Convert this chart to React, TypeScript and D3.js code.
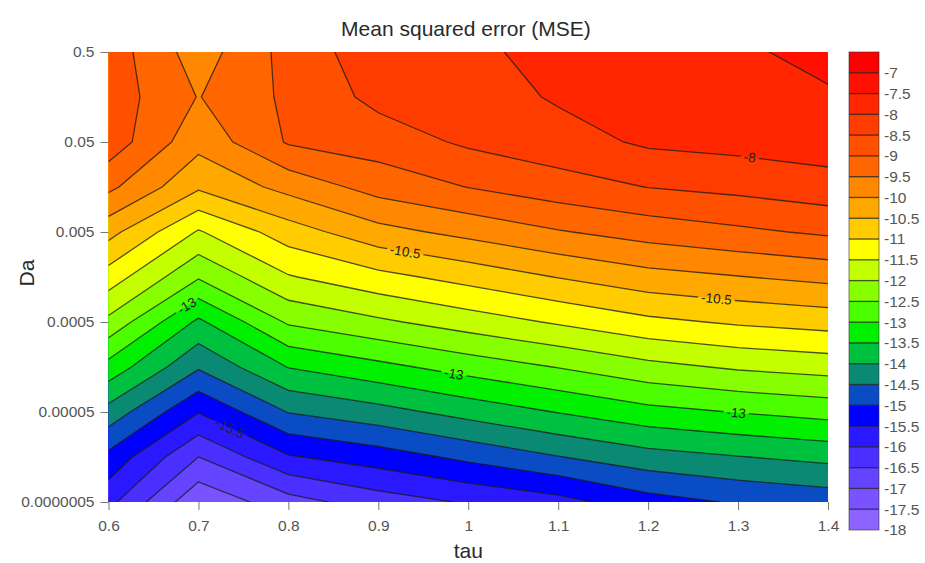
import React, { useEffect, useRef } from "react";
import * as d3 from "d3";

// tau columns of the grid
const tauValues = [0.6, 0.7, 0.8, 0.9, 1.0, 1.1, 1.2, 1.3, 1.4];
// Da tick labels, bottom to top (the axis is evenly spaced)
const daTicks = ["0.0000005", "0.00005", "0.0005", "0.005", "0.05", "0.5"];
// grid rows in tick-index units, top (Da = 0.5) to bottom
const daRows = [5, 4.5, 4, 3.5, 3, 2.5, 2, 1.5, 1, 0.5, 0];

// MSE (log) per tau column, top row to bottom row
const mse06 = [-8.72, -8.72, -8.7, -9.38, -10.33, -11.23, -12.13, -13.18, -14.19, -15.14, -15.85];
const mse07 = [-9.75, -9.52, -9.84, -10.42, -11.55, -12.45, -13.6, -14.44, -15.48, -16.5, -17.4];
const mse08 = [-8.82, -8.9, -8.95, -9.84, -10.74, -11.54, -12.43, -13.48, -14.48, -15.55, -16.7];
const mse09 = [-8.2, -8.36, -8.76, -9.3, -10.17, -11.15, -12.09, -13.14, -14.18, -15.25, -16.25];
const mse10 = [-8.12, -8.26, -8.42, -8.99, -9.85, -10.82, -11.76, -12.79, -13.82, -14.88, -15.95];
const mse11 = [-7.82, -7.94, -8.21, -8.71, -9.54, -10.48, -11.44, -12.48, -13.48, -14.52, -15.68];
const mse12 = [-7.65, -7.81, -7.92, -8.49, -9.29, -10.18, -11.12, -12.15, -13.16, -14.2, -15.2];
const mse13 = [-7.58, -7.76, -7.84, -8.36, -9.1, -10.02, -10.93, -11.93, -12.98, -14.02, -14.95];
const mse14 = [-7.35, -7.56, -7.75, -8.2, -8.92, -9.86, -10.8, -11.8, -12.82, -13.86, -14.8];
const mseColumns = [mse06, mse07, mse08, mse09, mse10, mse11, mse12, mse13, mse14];

// contour levels (lower edge of each band) and band colours, -18 up to -7
const levels = d3.range(-18, -6.9, 0.5);
const bandColors = [
  "#8d63ff", "#7a52ff", "#6444ff", "#4a30ff", "#2a18ff", "#0000ff",
  "#0a4cc4", "#0a8a72", "#00c040", "#00f000", "#4cff00", "#88ff00",
  "#c4ff00", "#ffff00", "#ffcc00", "#ffa800", "#ff8800", "#ff6600",
  "#ff5000", "#ff3c00", "#ff2600", "#ff1000", "#ff0000",
];

// inline contour labels
const contourLabels = [
  { level: -8, tau: 1.313 },
  { level: -10.5, tau: 0.93 },
  { level: -10.5, tau: 1.276 },
  { level: -13, tau: 0.687 },
  { level: -13, tau: 0.984 },
  { level: -13, tau: 1.298 },
  { level: -15.5, tau: 0.735 },
];

function draw(svgEl: SVGSVGElement) {
  const dims = { left: 108.5, right: 828, top: 52, bottom: 502 };
  const font = "'Liberation Sans', Arial, sans-serif";

  const svg = d3.select(svgEl);
  svg.selectAll("*").remove();

  const x = d3.scaleLinear().domain([0.6, 1.4]).range([dims.left, dims.right]);
  const y = d3.scaleLinear().domain([0, daTicks.length - 1]).range([dims.bottom, dims.top]);

  const n = tauValues.length;
  const m = daRows.length;
  const grid: number[] = new Array(n * m);
  for (let j = 0; j < m; j++) {
    for (let i = 0; i < n; i++) grid[j * n + i] = mseColumns[i][j];
  }

  // d3.contours puts sample k at k + 0.5
  const gx = d3.scaleLinear().domain([0.5, n - 0.5]).range([x(tauValues[0]), x(tauValues[n - 1])]);
  const gy = d3.scaleLinear().domain([0.5, m - 0.5]).range([y(daRows[0]), y(daRows[m - 1])]);
  const path = d3.geoPath(
    d3.geoTransform({
      point(px: number, py: number) {
        (this as any).stream.point(gx(px), gy(py));
      },
    })
  );

  const contours = d3.contours().size([n, m]).thresholds(levels)(grid);
  const colorOf = (v: number) => bandColors[levels.indexOf(v)];

  const defs = svg.append("defs");
  defs.append("clipPath").attr("id", "plot-clip")
    .append("rect")
    .attr("x", dims.left).attr("y", dims.top)
    .attr("width", dims.right - dims.left).attr("height", dims.bottom - dims.top);

  const plot = svg.append("g").attr("clip-path", "url(#plot-clip)");
  plot.append("g")
    .selectAll("path")
    .data(contours)
    .join("path")
    .attr("d", (d: any) => path(d))
    .attr("fill", (d: any) => colorOf(d.value));

  // label positions along the contours
  const valueAt = (tau: number, row: number) => {
    const c = (tau - tauValues[0]) / 0.1;
    const i0 = Math.max(0, Math.min(Math.floor(c), n - 2));
    const f = c - i0;
    return mseColumns[i0][row] * (1 - f) + mseColumns[i0 + 1][row] * f;
  };
  const crossingY = (tau: number, level: number) => {
    for (let j = 0; j < m - 1; j++) {
      const a = valueAt(tau, j);
      const b = valueAt(tau, j + 1);
      if ((a - level) * (b - level) <= 0 && a !== b) {
        const f = (a - level) / (a - b);
        return y(daRows[j] + (daRows[j + 1] - daRows[j]) * f);
      }
    }
    return y(0);
  };

  const mask = defs.append("mask").attr("id", "label-gaps")
    .attr("maskUnits", "userSpaceOnUse")
    .attr("x", 0).attr("y", 0).attr("width", 925).attr("height", 563);
  mask.append("rect").attr("width", 925).attr("height", 563).attr("fill", "white");

  const lines = plot.append("g").attr("mask", "url(#label-gaps)");
  lines.selectAll("path")
    .data(contours.filter((c: any) => c.value > levels[0]))
    .join("path")
    .attr("d", (d: any) => path(d))
    .attr("fill", "none")
    .attr("stroke", "#1a1a1a")
    .attr("stroke-opacity", 0.75)
    .attr("stroke-width", 1.3);

  const labelG = plot.append("g");
  contourLabels.forEach((l) => {
    const cx = x(l.tau);
    const cy = crossingY(l.tau, l.level);
    const y1 = crossingY(l.tau - 0.01, l.level);
    const y2 = crossingY(l.tau + 0.01, l.level);
    const angle = (Math.atan2(y2 - y1, x(l.tau + 0.01) - x(l.tau - 0.01)) * 180) / Math.PI;
    const t = labelG.append("text")
      .attr("transform", `translate(${cx},${cy}) rotate(${angle})`)
      .attr("text-anchor", "middle")
      .attr("dy", "0.35em")
      .attr("font-family", font)
      .attr("font-size", 13.5)
      .attr("fill", "#222")
      .text(String(l.level));
    const w = (t.node() as SVGTextElement).getComputedTextLength() + 6;
    mask.append("rect")
      .attr("transform", `translate(${cx},${cy}) rotate(${angle})`)
      .attr("x", -w / 2).attr("y", -6).attr("width", w).attr("height", 12)
      .attr("fill", "black");
  });

  // X axis
  const xAxis = svg.append("g")
    .attr("transform", `translate(0,${dims.bottom})`)
    .call(
      d3.axisBottom(x)
        .tickValues(tauValues)
        .tickFormat((d: any) => String(d))
        .tickSize(8)
        .tickPadding(10)
    );
  xAxis.select(".domain").remove();
  xAxis.selectAll("line").attr("stroke", "#777");
  xAxis.selectAll("text").attr("font-family", font).attr("font-size", 15.5).attr("fill", "#555");

  // Y axis
  const yAxis = svg.append("g")
    .attr("transform", `translate(${dims.left},0)`)
    .call(
      d3.axisLeft(y)
        .tickValues(d3.range(daTicks.length))
        .tickFormat((d: any) => daTicks[d])
        .tickSize(8)
        .tickPadding(6)
    );
  yAxis.select(".domain").remove();
  yAxis.selectAll("line").attr("stroke", "#777");
  yAxis.selectAll("text").attr("font-family", font).attr("font-size", 15.5).attr("fill", "#555");

  // Colour bar
  const cb = d3.scaleLinear().domain([-18, -6.5]).range([530, 52]);
  const cbX = 849;
  const cbW = 30;
  const cbG = svg.append("g");
  cbG.selectAll("rect.band")
    .data(levels)
    .join("rect")
    .attr("class", "band")
    .attr("x", cbX)
    .attr("width", cbW)
    .attr("y", (d: number) => cb(d + 0.5))
    .attr("height", (d: number) => cb(d) - cb(d + 0.5))
    .attr("fill", (d: number) => colorOf(d));
  cbG.selectAll("line")
    .data(levels.slice(1))
    .join("line")
    .attr("x1", cbX).attr("x2", cbX + cbW)
    .attr("y1", (d: number) => cb(d)).attr("y2", (d: number) => cb(d))
    .attr("stroke", "#1a1a1a").attr("stroke-opacity", 0.75).attr("stroke-width", 1.3);
  cbG.append("rect")
    .attr("x", cbX).attr("y", cb(-6.5))
    .attr("width", cbW).attr("height", cb(-18) - cb(-6.5))
    .attr("fill", "none").attr("stroke", "#333").attr("stroke-opacity", 0.6);
  cbG.selectAll("text")
    .data(levels)
    .join("text")
    .attr("x", cbX + cbW + 5)
    .attr("y", (d: number) => cb(d))
    .attr("dy", "0.35em")
    .attr("font-family", font)
    .attr("font-size", 15.5)
    .attr("fill", "#555")
    .text((d: number) => String(d));

  // Titles
  svg.append("text")
    .attr("x", 466).attr("y", 36)
    .attr("text-anchor", "middle")
    .attr("font-family", font).attr("font-size", 21).attr("fill", "#2a2a2a")
    .text("Mean squared error (MSE)");
  svg.append("text")
    .attr("x", (dims.left + dims.right) / 2).attr("y", 558)
    .attr("text-anchor", "middle")
    .attr("font-family", font).attr("font-size", 21).attr("fill", "#2a2a2a")
    .text("tau");
  svg.append("text")
    .attr("transform", `translate(34,${(dims.top + dims.bottom) / 2 - 4}) rotate(-90)`)
    .attr("text-anchor", "middle")
    .attr("font-family", font).attr("font-size", 21).attr("fill", "#2a2a2a")
    .text("Da");
}

export default function App() {
  const ref = useRef<SVGSVGElement>(null);

  useEffect(() => {
    if (ref.current) draw(ref.current);
  }, []);

  return (
    <div style={{ position: "absolute", left: 0, top: 0, background: "#fff" }}>
      <svg ref={ref} width={925} height={563} />
    </div>
  );
}
